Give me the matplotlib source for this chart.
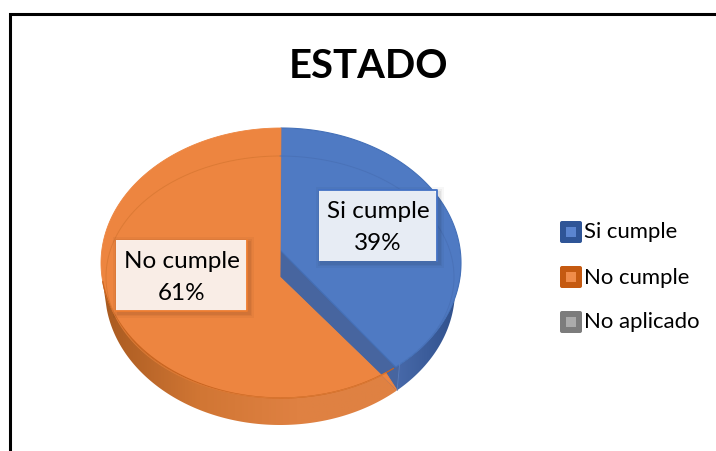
import numpy as np
import matplotlib
matplotlib.use('Agg')
import matplotlib.pyplot as plt
from matplotlib.colors import LinearSegmentedColormap
from matplotlib.patches import Polygon, Rectangle, FancyBboxPatch

plt.rcParams['font.family'] = ['Lato', 'DejaVu Sans']

# datos
title = 'ESTADO'
categories = ['Si cumple', 'No cumple', 'No aplicado']
values = [39, 61, 0]
labels_txt = ['Si cumple\n39%', 'No cumple\n61%']

# colores
top_colors = ['#4f7ac3', '#ed8540']
legend_edge = ['#2f5597', '#c55a11', '#7c7c7c']
legend_fill = ['#5b85d0', '#f08c4a', '#ababab']
rim_colors = ['#4a72b8', '#dc7a35']

# geometria en pixeles
cx, cy = 281, 263
rx, ry = 180, 135
low_cx, low_cy, low_rx = 280, 290, 175


def arc(d0, d1, n=200):
    a = np.radians(np.linspace(d0, d1, n))
    return np.column_stack([cx + rx * np.sin(a), cy - ry * np.cos(a)])


def low_arc(d0, d1, n=200):
    a = np.radians(np.linspace(d0, d1, n))
    return np.column_stack([low_cx + low_rx * np.sin(a), low_cy - ry * np.cos(a)])


fig = plt.figure(figsize=(7.16, 4.51), dpi=100)
ax = fig.add_axes([0, 0, 1, 1])

# marco
ax.plot([9.5, 9.5, 716], [451, 13.5, 13.5], color='black', lw=2.2, solid_joinstyle='miter')

ax.text(368, 66.5, title, fontsize=28.8, fontweight='bold', ha='center', va='center', color='black')

split = 360 * values[0] / sum(values)
low_split = split - 2.4


# lado curvo con degradado horizontal
def side(d0, d1, low0, low1, colors, x0, x1):
    shape = np.vstack([arc(d0, d1), low_arc(low1, low0)])
    poly = Polygon(shape, closed=True, fc='none', ec='none')
    ax.add_patch(poly)
    cmap = LinearSegmentedColormap.from_list('lado', colors)
    im = ax.imshow(np.linspace(0, 1, 256)[None, :], cmap=cmap, extent=[x0, x1, 440, 250], aspect='auto')
    im.set_clip_path(poly)


side(90, split, 90, low_split, ['#4a6cad', '#2f4f8a'], 390, 461)
side(split, 262, low_split, 262, ['#a85a20', '#d17634', '#df8142', '#df8142'], 101, 396)

# pared del corte azul
vx, vy = cx - 1, cy - 13
ex, ey = arc(split, split, 1)[0]
bx_low, by_low = low_arc(low_split, low_split, 1)[0]
ax.add_patch(Polygon([[vx, vy], [ex + 4, ey - 4], [bx_low, by_low], [vx, vy + 27]],
                     closed=True, fc='#47659f', ec='#47659f', lw=0.5))

# cara azul
blue = np.vstack([[[vx, vy]], arc(0, split)])
ax.add_patch(Polygon(blue, closed=True, fc=top_colors[0], ec='#4470b8', lw=0.8))
ax.plot([ex + 4, bx_low], [ey - 4, by_low], color='#5a7dbb', lw=0.6)

# cara naranja
orange = np.vstack([[[vx, vy + 27]], [[bx_low, by_low]], arc(split + 4, 360)])
ax.add_patch(Polygon(orange, closed=True, fc=top_colors[1], ec=top_colors[1], lw=0.6))
ax.plot(*arc(split + 1, 262).T, color='#c9641f', lw=0.9)

# aro interior
t = np.linspace(0, 360, 400)
ix = cx - 1 + 174 * np.sin(np.radians(t))
iy = 277 - 121 * np.cos(np.radians(t))
ax.plot(ix[t <= 128], iy[t <= 128], color=rim_colors[0], lw=0.7)
ax.plot(ix[t >= 142], iy[t >= 142], color=rim_colors[1], lw=0.7)

# etiquetas
boxes = [(319, 190, 118, 71), (116, 240, 131, 71)]
box_edge = ['#4472c4', '#ed7d31']
for i, (txt, (bx, by, bw, bh), ec) in enumerate(zip(labels_txt, boxes, box_edge)):
    for k, a in zip([5, 3, 1.5], [0.03, 0.04, 0.05]):
        ax.add_patch(Rectangle((bx - k + 2, by - k + 2), bw + 2 * k, bh + 2 * k, fc='black', ec='none', alpha=a, zorder=3))
    ax.add_patch(Rectangle((bx, by), bw, bh, fc='white', ec='none', alpha=0.88, zorder=3))
    if i == 0:
        ax.plot([bx, bx + bw, bx + bw], [by, by, by + bh], color=ec, lw=1.3, zorder=3)
    else:
        ax.plot([bx + bw, bx + bw, bx], [by, by + bh, by + bh], color=ec, lw=1.3, zorder=3)
    ax.text(bx + bw / 2, by + bh / 2 + 2, txt, fontsize=17.5, ha='center', va='center',
            linespacing=1.65, color='black', zorder=4)

# leyenda
leg_y = [232, 277, 322]
for name, y, e, f in zip(categories, leg_y, legend_edge, legend_fill):
    ax.add_patch(FancyBboxPatch((560, y - 11), 22, 22, boxstyle='round,pad=0,rounding_size=2', fc=e, ec='none'))
    ax.add_patch(Rectangle((566, y - 5), 10, 10, fc=f, ec='none'))
    ax.text(584, y + 0.5, name, fontsize=15.9, ha='left', va='center', color='black')

ax.set_xlim(0, 716)
ax.set_ylim(451, 0)
ax.axis('off')

fig.savefig('out.png', dpi=100)
